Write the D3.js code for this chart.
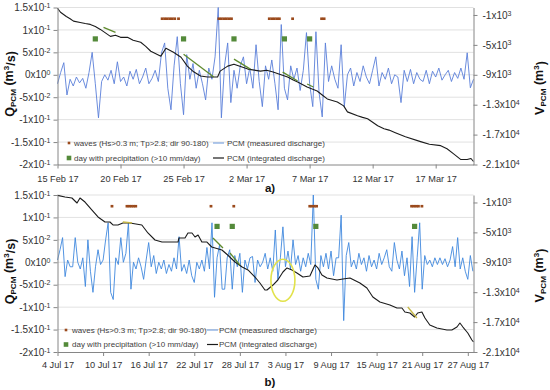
<!DOCTYPE html>
<html><head><meta charset="utf-8">
<script src="https://cdn.jsdelivr.net/npm/d3@7"></script>
<style>
body{margin:0;background:#fff}
svg{display:block}
text{font-family:"Liberation Sans",Arial,sans-serif}
</style>
</head><body>
<svg id="c" width="550" height="390"></svg>
<script>
// ---------------- DATA ----------------
// Axis tick values
const qTicks = [0.15, 0.1, 0.05, 0, -0.05, -0.1, -0.15, -0.2];
const vTicks = [-1000, -5000, -9000, -13000, -17000, -21000];
const xTicksA = ["2017-02-15","2017-02-20","2017-02-25","2017-03-02","2017-03-07","2017-03-12","2017-03-17"];
const xTicksB = ["2017-07-04","2017-07-10","2017-07-16","2017-07-22","2017-07-28","2017-08-03","2017-08-09","2017-08-15","2017-08-21","2017-08-27"];

// Measured discharge (x10^-3 m3/s), panel a: 4 samples per day from 15 Feb 17
const qA = [
 -20,5,27,-45, -10,-25,-5,-18, -8,-30,5,50, -20,-96,-15,0, -12,10,-20,29,
 -15,-5,-25,8, -10,12,-20,-5, 15,-20,-8,10, -15,49,71,-30, -78,20,85,-20,
 -89,45,-10,25, -30,10,-20,-56, 15,-10,40,150, -96,20,71,-62, 10,-30,20,40,
 -20,15,-30,67, -15,-71,20,-10, 33,-20,-78,112, -30,-56,20,-10, 15,-35,10,94,
 -20,-71,96,-40, -94,71,-15,20, -10,-30,67,-71, 0,15,-25,5, -15,20,-5,-20,
 10,40,-25,5, -10,15,-20,0, -5,-62,10,-15, 12,-20,5,-10, -15,10,-20,8,
 -5,15,-12,0, 10,-15,5,-8, 15,-10,49,-29, -10
];
// Measured discharge (x10^-3 m3/s), panel b: 3 samples per day from 4 Jul 17
const qB = [
 5,28,55, -32,5,-10, -10,55,0, -15,10,-54, 50,-20,-67, -10,28,-5, 5,50,88,
 -67,-83,10, -5,55,0, 20,88,-60, 0,-15,10, -10,-38,5, 44,-10,15, -25,0,-15,
 5,-25,-5, -20,10,-15, 57,-20,-5, -25,5,-30, -45,0,-15, 5,-20,33, -15,88,-78,
 10,39,-60, -60,10,28, -60,15,-10, 20,-67,5, -15,10,13, -45,5,-10, 0,20,-15,
 10,-20,72, -38,10,79, -10,25,-15, 50,-5,15, -20,10,-10, 20,-5,150, -38,-60,15,
 -10,20,-15, 25,-30,10, 10,105,-130, 15,44,-10, 5,-15,20, -5,10,-20, 15,-10,5,
 -15,20,-5, 10,28,-10, -20,44,5, -15,25,-30, 10,-54,57, -67,10,88, -60,15,-5,
 5,-10,10, -5,10,-5, 8,-10,5, 35,-10,55, -15,10,-20, -38,15,-20
];

// Integrated discharge (m3): [day offset, volume]
const volA = [
 [0,-100],[0.24,-630],[0.7,-1200],[1.0,-1500],[1.27,-1820],[1.8,-2000],[2.2,-2150],[2.6,-2260],[3.0,-2530],
 [3.4,-2930],[4.2,-3860],[4.6,-3700],[5.0,-3990],[5.55,-3990],[6.0,-4390],[6.6,-4650],[7.0,-5200],[7.4,-5850],
 [8.2,-6510],[8.6,-5450],[9.2,-5980],[9.8,-6650],[10.3,-7840],[10.8,-8600],[11.35,-9170],[11.9,-9300],[12.7,-9300],
 [12.9,-8510],[13.5,-7840],[14.0,-7580],[15.1,-8240],[16.1,-8510],[16.6,-8400],[17.1,-8640],[18.25,-9300],
 [18.7,-9700],[19.05,-9970],[19.8,-10630],[20.6,-11170],[21.0,-11700],[21.4,-12230],[22.2,-12630],[22.7,-13160],
 [23.0,-13960],[23.8,-14490],[24.2,-14700],[24.6,-14890],[25.4,-15820],[25.9,-16220],[26.3,-16400],[26.8,-16750],
 [27.6,-17280],[28.8,-17940],[29.5,-18300],[30.4,-18480],[30.9,-18900],[31.4,-19540],[32.0,-20340],[32.5,-20340],
 [32.8,-20200],[33.0,-20600]
];
const volB = [
 [0,-50],[0.99,-270],[1.9,-400],[2.57,-1070],[2.96,-400],[3.62,-940],[4.54,-2010],[5.33,-2940],[6.25,-3610],
 [6.9,-3610],[7.3,-4010],[7.96,-4010],[8.6,-3745],[9.54,-3745],[11.1,-4010],[11.9,-5080],[12.83,-6020],
 [13.75,-6290],[14.8,-6290],[15.86,-6290],[15.99,-5750],[16.78,-5750],[17.17,-5080],[17.7,-5080],[18.1,-5620],
 [18.5,-5350],[19.0,-6290],[19.67,-6290],[20.3,-6955],[21.64,-7360],[22.4,-8025],[23.36,-8960],[24.3,-9630],
 [25.07,-10030],[25.99,-10970],[26.64,-11770],[27.3,-12710],[27.57,-12710],[28.36,-12040],[29.0,-11370],
 [29.67,-10300],[30.2,-9760],[30.86,-10030],[31.51,-10430],[32.3,-10970],[33.22,-10830],[33.88,-9360],
 [34.28,-9760],[34.8,-10700],[35.46,-11100],[36.78,-11370],[37.57,-11235],[38.49,-11100],[39.8,-11770],
 [40.72,-12440],[41.5,-13640],[42.43,-14310],[43.75,-14710],[44.67,-15115],[45.33,-15115],[45.72,-15650],
 [46.38,-15780],[47.0,-16320],[47.4,-15780],[47.96,-15650],[48.36,-16450],[49.0,-17390],[49.93,-17790],
 [51.25,-18060],[51.9,-18060],[52.57,-17660],[52.96,-17120],[53.36,-17660],[54.0,-18460],[54.54,-19395],[54.75,-19660]
];

// Trend segments on the integrated discharge: [day0, vol0, day1, vol1]
const greenA = [[3.65,-2660,4.6,-3320],[10,-6250,12.4,-9300],[14,-6910,15.3,-8240],[17.86,-8640,19.05,-9840],[19.8,-10235,20.3,-10630]];
const greenB = [[20.46,-5750,21.78,-7090],[22.7,-7760,24.0,-9360]];
const yellowB = [[8.6,-3610,9.8,-3745],[46.1,-14980,47.3,-16450]];

// Wave events (day offsets), plotted at Q = 0.125
const wavesA = [8.3,8.5,8.7,8.9,9.1,9.3,9.6, 12.8,13.0,13.2,13.4,13.6,13.8, 16.8,17.0,17.2,17.4,17.6, 18.65, 20.95,21.15];
const wavesB = [7.17, 9.14,9.43,9.72,10.01,10.3, 20.2, 23.2, 33.2,33.5,33.8,34.1, 46.6,46.9,47.2,47.5, 47.96];
const waveLevel = 0.125;
// Days with precipitation > 10 mm/day, plotted at Q = 0.08
const precipA = ["2017-02-18","2017-02-25","2017-03-01","2017-03-05","2017-03-07"];
const precipB = ["2017-07-25","2017-07-27","2017-08-07","2017-08-20"];
const precipLevel = 0.08;

// Highlight ellipse in panel b (date, discharge)
const ellipseB = {date: "2017-08-02T16:00", q: -0.04};

const legendLabels = ["waves (Hs>0.3 m; Tp>2.8; dir 90-180)", "day with precipitation (>10 mm/day)",
  "PCM (measured discharge)", "PCM (integrated discharge)"];

// ---------------- DRAW ----------------
const svg = d3.select("#c");
const parseDay = d3.timeParse("%Y-%m-%d");
const parseDT = d3.timeParse("%Y-%m-%dT%H:%M");
const fmtDate = d3.timeFormat("%-d %b %y");
const offset = (start, d) => new Date(+start + d * 864e5);

const C = {
  blueLeg: "#7ea6e0", black: "#1b1b1b", green: "#5f8a2e", yellow: "#c4b646",
  wave: "#9b4a1c", precip: "#548a3a", axis: "#868686", grid: "#d9d9d9", text: "#333"
};

function sci(v) {
  if (v === 0) return ["0", "0"];
  const e = Math.floor(Math.log10(Math.abs(v)) + 1e-9);
  const m = +(v / Math.pow(10, e)).toFixed(1);
  return [String(m), String(e)];
}
function sciText(sel) {
  sel.each(function(d) {
    const t = d3.select(this); t.text(null);
    const [m, e] = sci(d);
    t.append("tspan").text(m + "x10");
    t.append("tspan").attr("dy", "-0.45em").attr("font-size", "70%").text(e);
  });
}

const panels = [
  {start: new Date(2017,1,15), end: new Date(2017,2,20), top: 7.5, bottom: 164.5, q: qA, perDay: 4, vol: volA,
   blue: "#5a7fd9",
   green: greenA, yellow: [], waves: wavesA, precip: precipA, xTicks: xTicksA, xPad: 7, tag: "a)", tagY: 192,
   leg: {y: [143, 158], mx: 69, tx: 74, lx: 213, ltx: 227}, ellipse: null},
  {start: new Date(2017,6,4), end: new Date(2017,7,27,18), top: 195, bottom: 352, q: qB, perDay: 3, vol: volB,
   blue: "#4088de",
   green: greenB, yellow: yellowB, waves: wavesB, precip: precipB, xTicks: xTicksB, xPad: 5, tag: "b)", tagY: 386,
   leg: {y: [330, 344.5], mx: 66, tx: 72, lx: 207, ltx: 219}, ellipse: ellipseB}
];

const L = 57.5, R = 473.5;

panels.forEach(p => {
  const x = d3.scaleTime().domain([p.start, p.end]).range([L, R]);
  const yQ = d3.scaleLinear().domain([-0.2, 0.15]).range([p.bottom, p.top]);
  const yV = d3.scaleLinear().domain([-21000, 0]).range([p.bottom, p.top]);
  const g = svg.append("g");

  // gridlines
  g.append("g").selectAll("line").data(qTicks.filter(t => t !== -0.2)).join("line")
    .attr("x1", L).attr("x2", R).attr("y1", d => yQ(d)).attr("y2", d => yQ(d))
    .attr("stroke", C.grid).attr("stroke-width", 0.8);

  // measured discharge
  const lineQ = d3.line().x((v, i) => x(offset(p.start, i / p.perDay))).y(v => yQ(v / 1000));
  g.append("path").datum(p.q).attr("d", lineQ).attr("fill", "none")
    .attr("stroke", p.blue).attr("stroke-width", 0.9).attr("stroke-linejoin", "round");

  // integrated discharge
  const lineV = d3.line().x(d => x(offset(p.start, d[0]))).y(d => yV(d[1]));
  g.append("path").datum(p.vol).attr("d", lineV).attr("fill", "none")
    .attr("stroke", C.black).attr("stroke-width", 1.1).attr("stroke-linejoin", "round");

  // trend segments
  const seg = (arr, col) => g.append("g").selectAll("line").data(arr).join("line")
    .attr("x1", d => x(offset(p.start, d[0]))).attr("y1", d => yV(d[1]))
    .attr("x2", d => x(offset(p.start, d[2]))).attr("y2", d => yV(d[3]))
    .attr("stroke", col).attr("stroke-width", 1.3);
  seg(p.green, C.green);
  seg(p.yellow, C.yellow);

  // waves
  g.append("g").selectAll("rect").data(p.waves).join("rect")
    .attr("x", d => x(offset(p.start, d)) - 1.4).attr("y", yQ(waveLevel) - 1.3)
    .attr("width", 2.8).attr("height", 2.6).attr("fill", C.wave);
  // precipitation
  g.append("g").selectAll("rect").data(p.precip).join("rect")
    .attr("x", d => x(parseDay(d)) - 2.6).attr("y", yQ(precipLevel) - 2.6)
    .attr("width", 5.2).attr("height", 5.2).attr("fill", C.precip);

  // ellipse annotation
  if (p.ellipse) {
    g.append("ellipse").attr("cx", x(parseDT(p.ellipse.date))).attr("cy", yQ(p.ellipse.q))
      .attr("rx", 12).attr("ry", 21).attr("fill", "none").attr("stroke", "#e2e24a").attr("stroke-width", 1.6);
  }

  // axes
  const styleAxis = (a, fs) => {
    a.select(".domain").attr("stroke", C.axis);
    a.selectAll(".tick line").attr("stroke", C.axis);
    a.selectAll("text").attr("fill", C.text).attr("font-size", fs)
      .attr("font-family", '"Liberation Sans", Arial, sans-serif');
    a.attr("font-family", null).attr("font-size", null);
  };
  const ax = g.append("g").attr("transform", `translate(${L},0)`)
    .call(d3.axisLeft(yQ).tickValues(qTicks).tickSize(4).tickPadding(3).tickSizeOuter(0));
  styleAxis(ax, "10px"); ax.selectAll(".tick text").call(sciText);

  const axR = g.append("g").attr("transform", `translate(${R},0)`)
    .call(d3.axisRight(yV).tickValues(vTicks).tickSize(4).tickPadding(5).tickSizeOuter(0));
  styleAxis(axR, "10px"); axR.selectAll(".tick text").call(sciText);

  const axB = g.append("g").attr("transform", `translate(0,${p.bottom})`)
    .call(d3.axisBottom(x).tickValues(p.xTicks.map(parseDay)).tickFormat(fmtDate).tickSize(4).tickPadding(p.xPad).tickSizeOuter(0));
  styleAxis(axB, "9.2px");

  // axis titles
  const cy = (p.top + p.bottom) / 2;
  const tq = g.append("text").attr("transform", `translate(14,${cy - 2}) rotate(-90)`)
    .attr("text-anchor", "middle").attr("font-weight", "bold").attr("font-size", "12.5px").attr("fill", "#111");
  tq.append("tspan").text("Q");
  tq.append("tspan").attr("font-size", "65%").attr("dy", "0.3em").text("PCM");
  tq.append("tspan").attr("dy", "-0.3em").text(" (m");
  tq.append("tspan").attr("font-size", "65%").attr("dy", "-0.45em").text("3");
  tq.append("tspan").attr("dy", "0.45em").text("/s)");

  const tv = g.append("text").attr("transform", `translate(544,${cy + 2}) rotate(-90)`)
    .attr("text-anchor", "middle").attr("font-weight", "bold").attr("font-size", "12.5px").attr("fill", "#111");
  tv.append("tspan").text("V");
  tv.append("tspan").attr("font-size", "65%").attr("dy", "0.3em").text("PCM");
  tv.append("tspan").attr("dy", "-0.3em").text(" (m");
  tv.append("tspan").attr("font-size", "65%").attr("dy", "-0.45em").text("3");
  tv.append("tspan").attr("dy", "0.45em").text(")");

  // panel tag
  g.append("text").attr("x", 270).attr("y", p.tagY).attr("text-anchor", "middle")
    .attr("font-weight", "bold").attr("font-size", "11.5px").attr("fill", "#111").text(p.tag);

  // legend
  const lg = g.append("g").attr("font-size", "8px").attr("fill", "#404040");
  const ly = p.leg.y;
  lg.append("rect").attr("x", p.leg.mx - 1.3).attr("y", ly[0] - 1.3).attr("width", 2.6).attr("height", 2.6).attr("fill", C.wave);
  lg.append("rect").attr("x", p.leg.mx - 2.3).attr("y", ly[1] - 2.3).attr("width", 4.6).attr("height", 4.6).attr("fill", C.precip);
  lg.append("line").attr("x1", p.leg.lx).attr("x2", p.leg.lx + 11).attr("y1", ly[0]).attr("y2", ly[0]).attr("stroke", C.blueLeg).attr("stroke-width", 1.2);
  lg.append("line").attr("x1", p.leg.lx).attr("x2", p.leg.lx + 11).attr("y1", ly[1]).attr("y2", ly[1]).attr("stroke", C.black).attr("stroke-width", 1.2);
  lg.append("text").attr("x", p.leg.tx).attr("y", ly[0]).attr("dy", "0.35em").text(legendLabels[0]);
  lg.append("text").attr("x", p.leg.tx).attr("y", ly[1]).attr("dy", "0.35em").text(legendLabels[1]);
  lg.append("text").attr("x", p.leg.ltx).attr("y", ly[0]).attr("dy", "0.35em").text(legendLabels[2]);
  lg.append("text").attr("x", p.leg.ltx).attr("y", ly[1]).attr("dy", "0.35em").text(legendLabels[3]);
});
</script>
</body></html>
